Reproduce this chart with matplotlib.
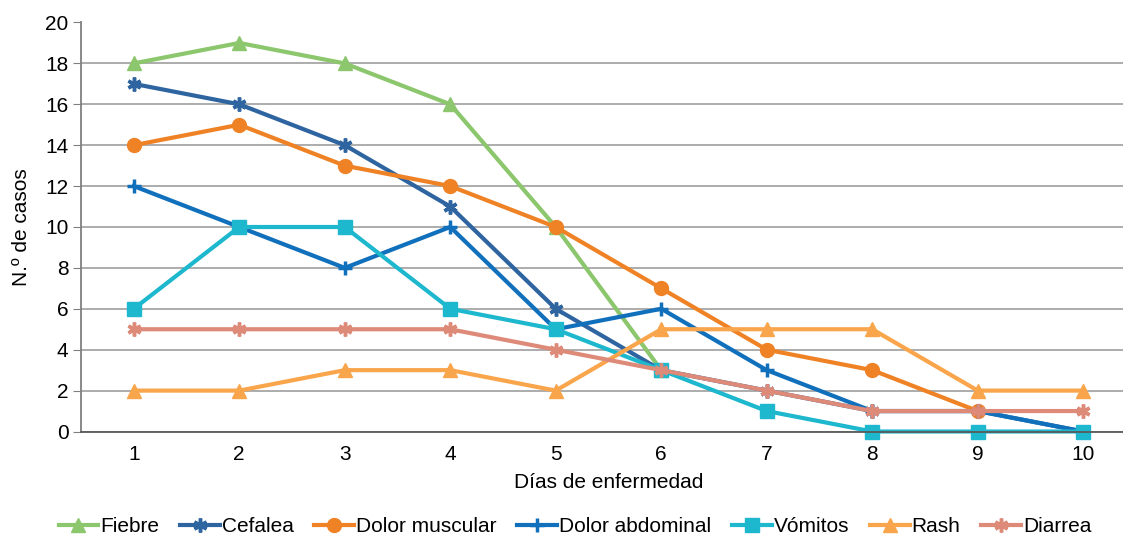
import matplotlib
matplotlib.use("Agg")
import matplotlib.pyplot as plt
import numpy as np

plt.rcParams['font.family'] = ['Liberation Sans', 'DejaVu Sans']

dias = [1, 2, 3, 4, 5, 6, 7, 8, 9, 10]
nan = np.nan

# series that stop early have nan for the missing days
fiebre = [18, 19, 18, 16, 10, 3, nan, nan, nan, nan]
cefalea = [17, 16, 14, 11, 6, 3, 2, 1, 1, 0]
dolor_muscular = [14, 15, 13, 12, 10, 7, 4, 3, 1, nan]
dolor_abdominal = [12, 10, 8, 10, 5, 6, 3, 1, 1, 0]
vomitos = [6, 10, 10, 6, 5, 3, 1, 0, 0, 0]
rash = [2, 2, 3, 3, 2, 5, 5, 5, 2, 2]
diarrea = [5, 5, 5, 5, 4, 3, 2, 1, 1, 1]

star = (6, 2, 0)
series = [
    ("Fiebre", fiebre, "#8CC66D", "^"),
    ("Cefalea", cefalea, "#2E64A0", star),
    ("Dolor muscular", dolor_muscular, "#F08226", "o"),
    ("Dolor abdominal", dolor_abdominal, "#1170BC", "+"),
    ("Vómitos", vomitos, "#1DB7CE", "s"),
    ("Rash", rash, "#F9A54B", "^"),
    ("Diarrea", diarrea, "#DE8A78", star),
]

fig = plt.figure(figsize=(11.23, 5.36), dpi=100)
ax = fig.add_axes([81 / 1123, 1 - 431.5 / 536, 1055 / 1123, 409 / 536])

for name, vals, col, mk in series:
    mew = 2.5 if mk in ("+", star) else 1
    ax.plot(dias, vals, color=col, lw=3, marker=mk, ms=10, mew=mew,
            mfc=col, mec=col, label=name, clip_on=False)

ax.set_xlim(0.5, 10.5)
ax.set_ylim(0, 20)
ax.set_yticks(range(0, 21, 2))
ax.set_xticks(dias)
ax.grid(axis='y', color='#A6A6A6', lw=1.3)
ax.set_axisbelow(True)
for s in ['top', 'right']:
    ax.spines[s].set_visible(False)
ax.spines['left'].set_color('#808080')
ax.spines['bottom'].set_color('#595959')
ax.spines['left'].set_linewidth(1.3)
ax.spines['bottom'].set_linewidth(1.3)
ax.tick_params(axis='y', length=6, color='#808080', labelsize=15, pad=3)
ax.tick_params(axis='x', length=0, labelsize=15, pad=10)

ax.set_xlabel("Días de enfermedad", fontsize=15, labelpad=6)
ax.set_ylabel("N.º de casos", fontsize=15, labelpad=10)

fig.legend(loc='lower center', bbox_to_anchor=(0.512, -0.035), ncol=7,
           frameon=False, fontsize=15, handlelength=1.9, columnspacing=1.0,
           handletextpad=0.1)

fig.savefig("out.png", dpi=100)
